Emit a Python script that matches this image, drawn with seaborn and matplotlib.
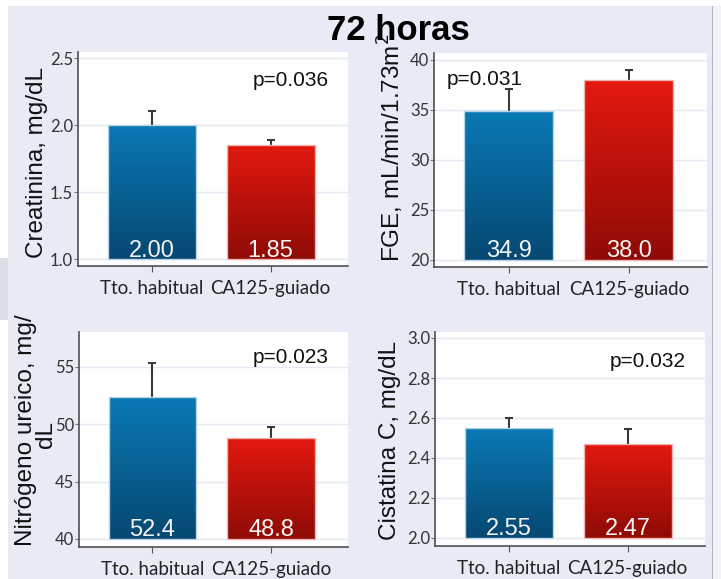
import numpy as np
import matplotlib
matplotlib.use("Agg")
import matplotlib.pyplot as plt
from matplotlib.colors import LinearSegmentedColormap
from matplotlib.patches import Rectangle
import seaborn as sns

# ---- data ----
groups = ["Tto. habitual", "CA125-guiado"]

creatinina = [2.00, 1.85]
creatinina_err = [0.105, 0.04]

fge = [34.9, 38.0]
fge_err = [2.2, 1.0]

nitrogeno = [52.4, 48.8]
nitrogeno_err = [2.95, 0.95]

cistatina = [2.55, 2.47]
cistatina_err = [0.05, 0.075]

creatinina_ticks = [1.0, 1.5, 2.0, 2.5]
fge_ticks = [20, 25, 30, 35, 40]
nitrogeno_ticks = [40, 45, 50, 55]
cistatina_ticks = [2.0, 2.2, 2.4, 2.6, 2.8, 3.0]

pvalues = ["p=0.036", "p=0.031", "p=0.023", "p=0.032"]
title = "72 horas"

W, H = 721, 579
BG = "#e8ebf5"

plt.rcParams["font.family"] = ["Liberation Sans", "DejaVu Sans"]

fig = plt.figure(figsize=(W / 100, H / 100), dpi=100)
fig.patch.set_facecolor("white")


def fx(px):
    return px / W


def fy(py):
    return 1 - py / H


# slide background and window edges
fig.patches.append(Rectangle((fx(8), 0), fx(704), fy(6), transform=fig.transFigure,
                             facecolor=BG, edgecolor="none", zorder=-10))
fig.patches.append(Rectangle((fx(712), 0), fx(1.2), fy(6), transform=fig.transFigure,
                             facecolor="#aeb3bd", edgecolor="none", zorder=-9))
fig.patches.append(Rectangle((fx(713), 0), fx(8), fy(6), transform=fig.transFigure,
                             facecolor="#f1f3f7", edgecolor="none", zorder=-9))
fig.patches.append(Rectangle((0, fy(320)), fx(8), fy(258) - fy(320), transform=fig.transFigure,
                             facecolor="#d9dde6", edgecolor="none", zorder=-9))

blue_cmap = LinearSegmentedColormap.from_list("blue_grad", ["#064872", "#0a79b5"])
red_cmap = LinearSegmentedColormap.from_list("red_grad", ["#8f0b06", "#e3190f"])
grad = np.linspace(0, 1, 256).reshape(-1, 1)


def ylab(text, pos):
    fig.text(fx(pos[0]), fy(pos[1]), text, rotation=90, fontsize=17.5,
             color="#111111", ha="center", va="center")


def panel(rect_px, values, errs, ticks, ylim, ptxt, ppos, fmt):
    l, t, r, b = rect_px
    ax = fig.add_axes([fx(l), fy(b), (r - l) / W, (b - t) / H])
    ax.set_facecolor("white")
    sns.barplot(x=groups, y=values, ax=ax, width=0.74, color="#0a79b5",
                errorbar=None, zorder=3)
    base = ticks[0]
    cmaps = [blue_cmap, red_cmap]
    edges = ["#b9d3e6", "#f2b3b0"]
    for i, p in enumerate(ax.patches[:2]):
        p.set_y(base)
        p.set_height(values[i] - base)
        p.set_facecolor("none")
        p.set_edgecolor(edges[i])
        p.set_linewidth(1.0)
        p.set_zorder(4)
        x0 = p.get_x()
        x1 = x0 + p.get_width()
        im = ax.imshow(grad, extent=[x0, x1, base, values[i]], origin="lower",
                       aspect="auto", cmap=cmaps[i], zorder=3.5, interpolation="bilinear")
        im.set_clip_path(p)
        ax.annotate(fmt.format(values[i]), xy=(i, base), xytext=(0, 2),
                    textcoords="offset points", ha="center", va="baseline",
                    color="#f4f4f4", fontsize=17, zorder=6)
    _, caps, _ = ax.errorbar([0, 1], values, yerr=[[0, 0], errs], fmt="none",
                             ecolor="#3a3a3a", elinewidth=1.5, capsize=2.6,
                             capthick=1.5, zorder=2.5)
    caps[0].set_visible(False)
    ax.set_xlim(-0.62, 1.65)
    ax.set_ylim(*ylim)
    ax.set_yticks(ticks)
    ax.set_yticklabels([f"{v:g}" if isinstance(v, int) else f"{v:.1f}" for v in ticks])
    ax.grid(axis="y", color="#e3e9f3", linewidth=1.0, zorder=0)
    ax.set_axisbelow(True)
    for s in ["top", "right"]:
        ax.spines[s].set_visible(False)
    for s in ["left", "bottom"]:
        ax.spines[s].set_color("#505050")
        ax.spines[s].set_linewidth(1.2)
    ax.tick_params(axis="y", length=3, width=0.8, color="#777777", pad=0.5,
                   labelsize=12, labelcolor="#333333")
    ax.tick_params(axis="x", length=4, width=0.8, color="#555555", pad=6,
                   labelsize=13.5, labelcolor="#222222")
    for lab in ax.get_yticklabels() + ax.get_xticklabels():
        lab.set_family(["Lato", "DejaVu Sans"])
    ax.set_xlabel("")
    ax.set_ylabel("")
    fig.text(fx(ppos[0]), fy(ppos[1]), ptxt, fontsize=15, color="#111111",
             ha="left", va="baseline")
    return ax


panel((78, 52, 348, 266), creatinina, creatinina_err, creatinina_ticks, (0.95, 2.545),
      pvalues[0], (253, 86), "{:.2f}")
ylab("Creatinina, mg/dL", (37, 162))

panel((434, 53, 707, 267), fge, fge_err, fge_ticks, (19.3, 40.7),
      pvalues[1], (447, 85), "{:.1f}")
ylab("FGE, mL/min/1.73m$^2$", (391, 148))

panel((79, 332, 348, 547), nitrogeno, nitrogeno_err, nitrogeno_ticks, (39.3, 58.05),
      pvalues[2], (253, 363), "{:.1f}")
# axis title wraps onto a second line
ylab("Nitrógeno ureico, mg/", (26, 430))
ylab("dL", (46, 435))

panel((435, 332, 705, 546), cistatina, cistatina_err, cistatina_ticks, (1.96, 3.03),
      pvalues[3], (610, 367), "{:.2f}")
ylab("Cistatina C, mg/dL", (390, 440))

fig.text(fx(398), fy(40), title, fontsize=25, fontweight="bold", color="#000000",
         ha="center", va="baseline")

fig.savefig("out.png", dpi=100, facecolor=fig.get_facecolor())
